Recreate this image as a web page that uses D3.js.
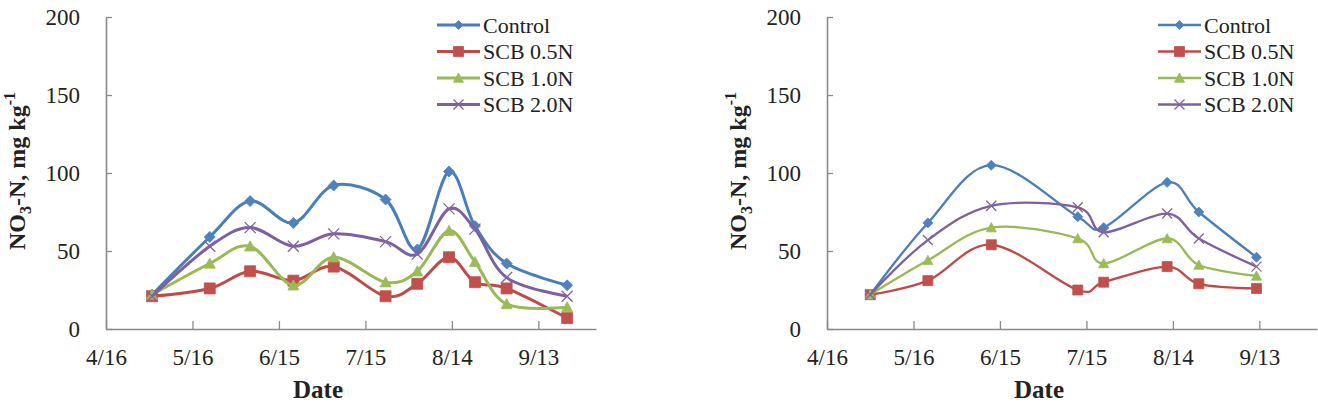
<!DOCTYPE html>
<html>
<head>
<meta charset="utf-8">
<script src="https://cdn.jsdelivr.net/npm/d3@7"></script>
<style>
body { margin: 0; background: #ffffff; }
text { font-family: "Liberation Serif", "Times New Roman", serif; }
</style>
</head>
<body>
<svg id="chart"></svg>
<script>
var width = 1318;
var height = 412;

// series names and legend order
var seriesNames = ["Control", "SCB 0.5N", "SCB 1.0N", "SCB 2.0N"];
var dateTicks = ["4/16", "5/16", "6/15", "7/15", "8/14", "9/13"];
var dateStart = "4/16";
var dateEnd = "10/3";
var yTicks = [0, 50, 100, 150, 200];

// left panel
var datesA = ["5/2", "5/22", "6/5", "6/20", "7/4", "7/22", "8/2", "8/13", "8/22", "9/2", "9/23"];
var controlA = [22, 59, 82, 68, 92, 83, 51, 101, 66, 42, 28];
var scb05A = [21, 26, 37, 31, 40, 21, 29, 46, 30, 26, 7];
var scb10A = [22, 42, 53, 28, 46, 30, 37, 63, 43, 16, 14];
var scb20A = [21, 53, 65, 53, 61, 56, 48, 77, 64, 33, 21];

// right panel
var datesB = ["5/1", "5/21", "6/12", "7/12", "7/21", "8/12", "8/23", "9/12"];
var controlB = [22, 68, 105, 72, 65, 94, 75, 46];
var scb05B = [22, 31, 54, 25, 30, 40, 29, 26];
var scb10B = [22, 44, 65, 58, 42, 58, 41, 34];
var scb20B = [22, 57, 79, 78, 62, 74, 58, 40];

var lineColors = ["#4A7EBB", "#BE4B48", "#98B954", "#7D60A0"];
var markColors = ["#4F81BD", "#C0504D", "#9BBB59", "#8064A2"];
var markTypes = ["diamond", "square", "triangle", "cross"];

var parseDate = function (s) { return d3.timeParse("%m/%d/%Y")(s + "/2010"); };

var svg = d3.select("#chart")
.attr("width", width)
.attr("height", height);

svg.append("rect")
.attr("width", width)
.attr("height", height)
.style("fill", "#ffffff");

function markerPath(type, r) {
	if (type == "diamond")
		return "M0," + (-r) + "L" + r + ",0L0," + r + "L" + (-r) + ",0Z";
	if (type == "square")
		return "M" + (-r) + "," + (-r) + "h" + (2 * r) + "v" + (2 * r) + "h" + (-2 * r) + "Z";
	if (type == "triangle")
		return "M0," + (-r) + "L" + r + "," + (r * 0.85) + "L" + (-r) + "," + (r * 0.85) + "Z";
	return "M" + (-r) + "," + (-r) + "L" + r + "," + r + "M" + r + "," + (-r) + "L" + (-r) + "," + r;
}

function drawMarker(g, type, i, x, y, r) {
	var p = g.append("path")
	.attr("d", markerPath(type, r))
	.attr("transform", "translate(" + x + "," + y + ")");
	if (type == "cross")
		p.style("fill", "none").style("stroke", markColors[i]).style("stroke-width", 1.3);
	else
		p.style("fill", markColors[i]).style("stroke", markColors[i]).style("stroke-width", 0.8);
}

function drawPanel(left, dates, series, lineW, markR) {
	var x0 = left, x1 = left + 490;
	var x = d3.scaleTime()
	.domain([parseDate(dateStart), parseDate(dateEnd)])
	.range([x0, x1]);
	var y = d3.scaleLinear()
	.domain([0, 200])
	.range([329, 17]);

	var g = svg.append("g");

	// axes
	var xAxis = g.append("g")
	.attr("transform", "translate(0,329)")
	.call(d3.axisBottom(x)
		.tickValues(dateTicks.map(parseDate))
		.tickFormat(function (d, i) { return dateTicks[i]; })
		.tickSize(-8)
		.tickPadding(20)
		.tickSizeOuter(0));
	xAxis.select(".domain").style("stroke", "#8a8a8a").style("stroke-width", 1.6);
	xAxis.selectAll(".tick line").style("stroke", "#8a8a8a").style("stroke-width", 1.3);
	xAxis.selectAll(".tick text")
	.style("font-size", "23px")
	.style("fill", "#222")
	.style("font-family", "'Liberation Serif', serif");

	var yAxis = g.append("g")
	.attr("transform", "translate(" + x0 + ",0)")
	.call(d3.axisLeft(y)
		.tickValues(yTicks)
		.tickSize(-6)
		.tickPadding(26)
		.tickSizeOuter(0));
	yAxis.select(".domain").style("stroke", "#8a8a8a").style("stroke-width", 1.6);
	yAxis.selectAll(".tick line").style("stroke", "#8a8a8a").style("stroke-width", 1.3);
	yAxis.selectAll(".tick text")
	.style("font-size", "23px")
	.style("fill", "#222")
	.style("font-family", "'Liberation Serif', serif");

	// axis titles
	g.append("text")
	.attr("x", x0 + 212)
	.attr("y", 398)
	.style("font-size", "25px")
	.style("font-weight", "bold")
	.style("fill", "#222")
	.style("text-anchor", "middle")
	.text("Date");

	var yt = g.append("text")
	.attr("transform", "translate(" + (x0 - 81) + ",171) rotate(-90)")
	.style("font-size", "24px")
	.style("font-weight", "bold")
	.style("fill", "#222")
	.style("text-anchor", "middle");
	yt.append("tspan").text("NO");
	yt.append("tspan").attr("dy", 6).style("font-size", "16px").text("3");
	yt.append("tspan").attr("dy", -6).text("-N, mg kg");
	yt.append("tspan").attr("dy", -10).style("font-size", "16px").text("-1");

	var line = d3.line()
	.x(function (d) { return x(d.date); })
	.y(function (d) { return y(d.value); })
	.curve(d3.curveCardinal.tension(0));

	series.forEach(function (vals, i) {
		var pts = vals.map(function (v, j) { return { date: parseDate(dates[j]), value: v }; });
		g.append("path")
		.datum(pts)
		.attr("d", line)
		.style("fill", "none")
		.style("stroke", lineColors[i])
		.style("stroke-width", lineW)
		.style("stroke-linejoin", "round");
		pts.forEach(function (d) {
			drawMarker(g, markTypes[i], i, x(d.date), y(d.value), markR);
		});
	});

	// legend
	var lx = x0 + 331;
	seriesNames.forEach(function (name, i) {
		var ly = 25 + i * 26.5;
		g.append("line")
		.attr("x1", lx).attr("x2", lx + 43)
		.attr("y1", ly).attr("y2", ly)
		.style("stroke", lineColors[i])
		.style("stroke-width", lineW);
		drawMarker(g, markTypes[i], i, lx + 21.5, ly, i == 0 ? 4.5 : 5);
		g.append("text")
		.attr("x", lx + 46)
		.attr("y", ly + 7.5)
		.style("font-size", "22px")
		.style("fill", "#222")
		.text(name);
	});
}

drawPanel(106, datesA, [controlA, scb05A, scb10A, scb20A], 3, 5.5);
drawPanel(827, datesB, [controlB, scb05B, scb10B, scb20B], 2.3, 5);
</script>
</body>
</html>
